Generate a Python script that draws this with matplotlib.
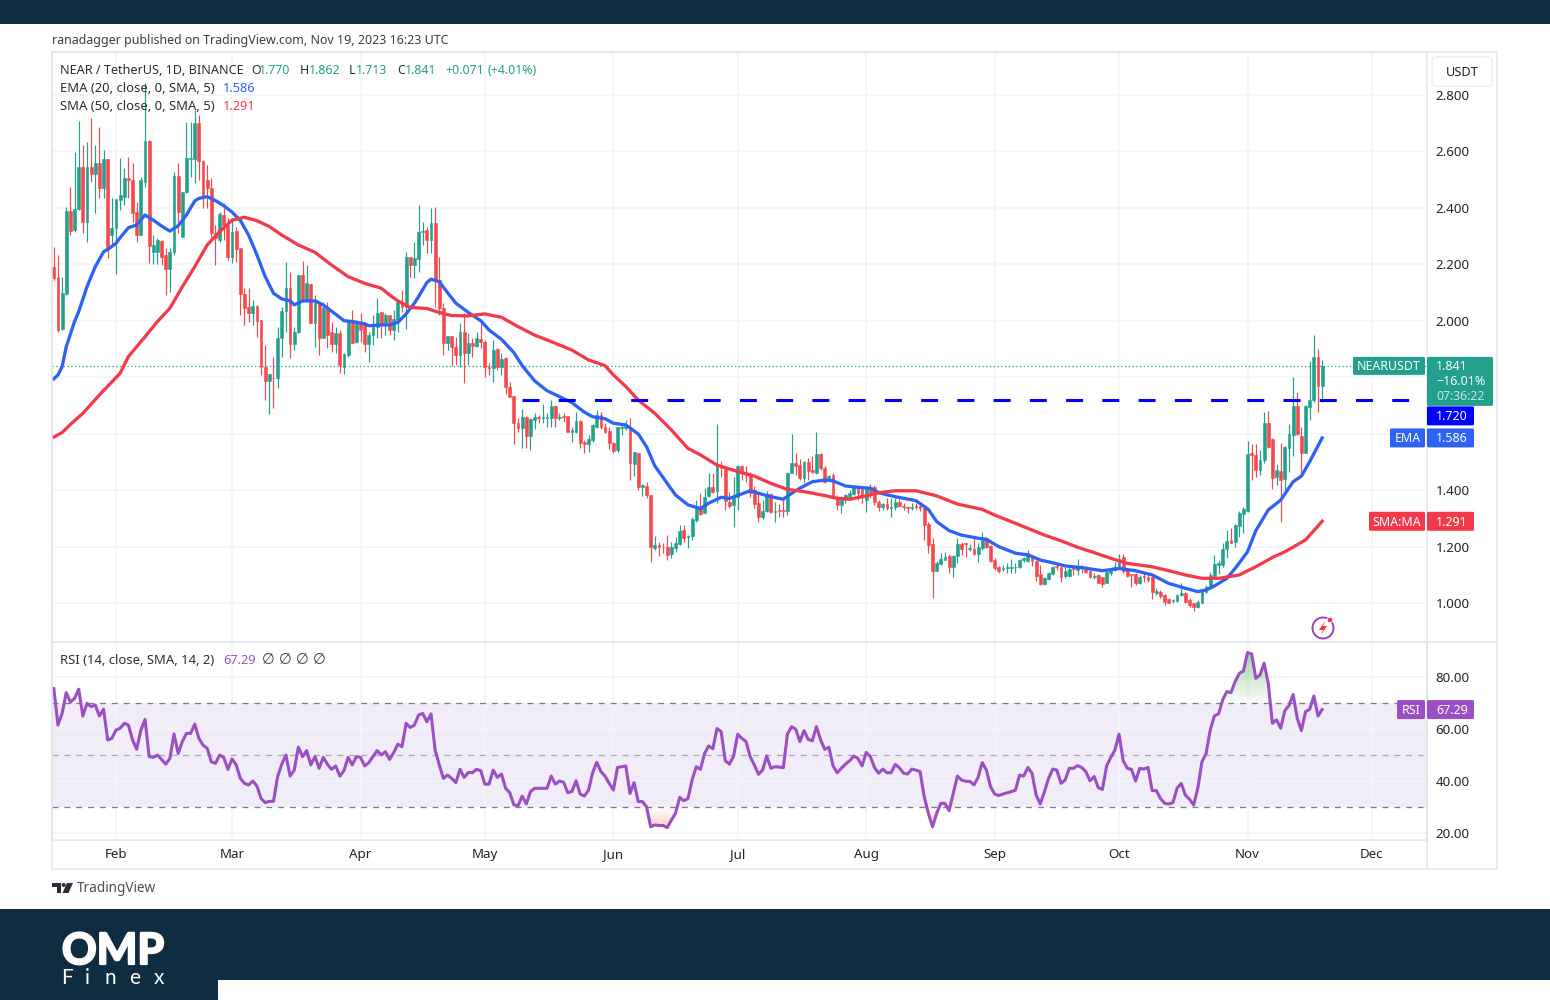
import numpy as np
import matplotlib
matplotlib.use("Agg")
import matplotlib.pyplot as plt
import matplotlib.patheffects as pe
from matplotlib.patches import Rectangle, FancyBboxPatch, Polygon, Circle, Arc

plt.rcParams['font.family'] = ['Noto Sans', 'DejaVu Sans']

# day offsets from Feb 1 2023, one candle per day
days = np.arange(-15, 292)

opens = [
    2.192,2.157,1.970,2.094,2.389,2.322,2.395,2.546,2.352,2.546,
    2.519,2.560,2.470,2.573,2.304,2.328,2.428,2.440,2.505,2.499,
    2.387,2.304,2.493,2.638,2.245,2.245,2.284,2.234,2.184,2.245,
    2.514,2.298,2.455,2.573,2.573,2.700,2.566,2.499,2.470,2.310,
    2.287,2.375,2.340,2.228,2.318,2.259,2.094,2.051,2.027,2.054,
    2.003,1.838,1.788,1.799,1.797,1.941,2.035,2.116,1.917,1.962,
    2.163,2.074,2.131,1.992,2.062,1.941,2.045,1.960,1.917,1.956,
    1.838,1.880,2.000,1.924,1.988,1.986,1.917,1.950,1.980,2.030,
    1.989,2.021,1.968,2.004,2.060,2.048,2.225,2.198,2.218,2.314,
    2.322,2.287,2.346,2.145,2.045,1.923,1.947,1.909,1.880,1.960,
    1.888,1.921,1.911,1.935,1.927,1.838,1.832,1.900,1.838,1.868,
    1.765,1.734,1.640,1.620,1.661,1.593,1.650,1.659,1.657,1.657,
    1.655,1.700,1.655,1.664,1.664,1.608,1.608,1.647,1.573,1.563,
    1.579,1.626,1.667,1.626,1.610,1.569,1.543,1.620,1.620,1.626,
    1.494,1.531,1.414,1.416,1.384,1.195,1.207,1.201,1.201,1.175,
    1.195,1.211,1.260,1.234,1.239,1.296,1.340,1.322,1.380,1.411,
    1.399,1.490,1.478,1.360,1.348,1.378,1.487,1.467,1.451,1.402,
    1.355,1.307,1.329,1.388,1.325,1.331,1.331,1.329,1.463,1.499,
    1.490,1.443,1.502,1.473,1.463,1.529,1.478,1.437,1.455,1.378,
    1.349,1.372,1.378,1.388,1.411,1.404,1.366,1.414,1.414,1.360,
    1.340,1.352,1.337,1.340,1.360,1.345,1.340,1.337,1.345,1.345,
    1.337,1.281,1.211,1.116,1.140,1.154,1.168,1.130,1.168,1.211,
    1.213,1.192,1.192,1.175,1.195,1.231,1.203,1.154,1.128,1.121,
    1.125,1.127,1.128,1.128,1.154,1.152,1.168,1.152,1.104,1.069,
    1.085,1.104,1.133,1.128,1.097,1.097,1.128,1.118,1.130,1.128,
    1.116,1.095,1.101,1.093,1.074,1.109,1.118,1.128,1.163,1.118,
    1.104,1.104,1.071,1.097,1.095,1.095,1.038,1.042,1.030,1.015,
    1.010,1.010,1.030,1.038,1.012,1.000,0.986,1.003,1.042,1.054,
    1.097,1.136,1.136,1.192,1.225,1.219,1.274,1.317,1.329,1.531,
    1.526,1.473,1.508,1.638,1.581,1.447,1.470,1.439,1.549,1.596,
    1.699,1.593,1.534,1.697,1.720,1.871,1.770]
highs = [
    2.263,2.234,2.157,2.405,2.475,2.597,2.708,2.623,2.635,2.717,
    2.623,2.688,2.605,2.575,2.434,2.432,2.576,2.540,2.582,2.558,
    2.422,2.511,2.841,2.641,2.304,2.293,2.285,2.257,2.257,2.529,
    2.558,2.456,2.706,2.703,2.747,2.729,2.570,2.552,2.505,2.340,
    2.387,2.417,2.363,2.363,2.334,2.260,2.116,2.116,2.074,2.057,
    2.004,1.915,1.811,1.874,1.980,2.051,2.210,2.174,1.980,2.163,
    2.213,2.198,2.131,2.092,2.068,2.068,2.068,1.998,1.980,1.968,
    1.885,2.000,2.039,2.003,2.027,1.998,1.962,2.021,2.080,2.030,
    2.027,2.022,2.039,2.069,2.110,2.245,2.228,2.281,2.411,2.352,
    2.334,2.399,2.405,2.228,2.063,1.947,1.948,1.945,1.992,2.027,
    1.956,1.939,1.962,1.992,1.933,1.850,1.933,1.903,1.888,1.874,
    1.785,1.735,1.655,1.687,1.662,1.655,1.673,1.667,1.706,1.673,
    1.720,1.703,1.673,1.673,1.664,1.626,1.679,1.648,1.579,1.596,
    1.635,1.685,1.679,1.638,1.626,1.573,1.626,1.632,1.649,1.655,
    1.537,1.532,1.423,1.431,1.385,1.239,1.219,1.215,1.242,1.219,
    1.237,1.278,1.278,1.242,1.307,1.366,1.390,1.408,1.461,1.463,
    1.635,1.506,1.482,1.396,1.447,1.490,1.490,1.487,1.467,1.416,
    1.396,1.366,1.399,1.392,1.360,1.352,1.366,1.467,1.600,1.532,
    1.510,1.506,1.514,1.522,1.606,1.532,1.487,1.455,1.463,1.384,
    1.381,1.386,1.402,1.417,1.420,1.411,1.416,1.423,1.420,1.366,
    1.357,1.372,1.372,1.372,1.370,1.355,1.345,1.355,1.355,1.357,
    1.340,1.290,1.231,1.152,1.180,1.183,1.175,1.172,1.231,1.219,
    1.213,1.211,1.234,1.213,1.254,1.234,1.207,1.160,1.133,1.136,
    1.142,1.156,1.145,1.156,1.166,1.189,1.172,1.154,1.136,1.093,
    1.113,1.133,1.142,1.130,1.128,1.136,1.136,1.156,1.136,1.133,
    1.118,1.107,1.104,1.095,1.118,1.124,1.148,1.174,1.174,1.124,
    1.104,1.107,1.101,1.107,1.101,1.095,1.054,1.048,1.034,1.018,
    1.015,1.034,1.071,1.042,1.018,1.003,1.012,1.050,1.065,1.113,
    1.172,1.154,1.213,1.260,1.266,1.281,1.329,1.343,1.576,1.565,
    1.565,1.543,1.679,1.683,1.585,1.494,1.567,1.557,1.635,1.803,
    1.750,1.626,1.703,1.860,1.950,1.900,1.862]
lows = [
    2.145,1.962,1.968,2.092,2.304,2.316,2.393,2.310,2.278,2.493,
    2.381,2.434,2.434,2.222,2.269,2.165,2.393,2.411,2.434,2.352,
    2.281,2.304,2.475,2.204,2.200,2.200,2.198,2.092,2.104,2.234,
    2.310,2.298,2.452,2.511,2.487,2.499,2.399,2.399,2.298,2.198,
    2.281,2.287,2.216,2.204,2.210,2.021,1.986,1.998,1.986,1.944,
    1.809,1.720,1.670,1.691,1.764,1.874,1.962,1.868,1.897,1.956,
    2.068,2.074,1.992,1.909,1.880,1.939,1.903,1.891,1.885,1.815,
    1.811,1.874,1.921,1.921,1.927,1.891,1.856,1.915,1.939,1.939,
    1.950,1.950,1.933,1.962,2.033,1.970,2.157,2.151,2.175,2.269,
    2.240,2.240,2.051,2.021,1.880,1.897,1.842,1.844,1.838,1.779,
    1.844,1.874,1.909,1.903,1.803,1.809,1.783,1.826,1.809,1.742,
    1.732,1.565,1.608,1.549,1.549,1.543,1.616,1.638,1.638,1.626,
    1.626,1.626,1.649,1.644,1.608,1.573,1.602,1.549,1.532,1.537,
    1.573,1.620,1.616,1.602,1.546,1.534,1.537,1.596,1.614,1.437,
    1.451,1.402,1.380,1.372,1.148,1.189,1.168,1.180,1.154,1.160,
    1.183,1.207,1.219,1.195,1.225,1.290,1.313,1.319,1.378,1.392,
    1.355,1.449,1.331,1.337,1.272,1.331,1.437,1.431,1.378,1.337,
    1.290,1.298,1.325,1.319,1.290,1.305,1.307,1.313,1.461,1.455,
    1.437,1.425,1.437,1.461,1.458,1.473,1.425,1.435,1.372,1.331,
    1.319,1.355,1.376,1.384,1.366,1.355,1.325,1.372,1.349,1.329,
    1.331,1.331,1.305,1.331,1.340,1.331,1.319,1.331,1.336,1.329,
    1.225,1.180,1.018,1.116,1.136,1.154,1.109,1.095,1.145,1.172,
    1.163,1.187,1.172,1.148,1.189,1.195,1.148,1.119,1.109,1.116,
    1.109,1.109,1.107,1.124,1.148,1.148,1.133,1.081,1.065,1.065,
    1.083,1.101,1.119,1.077,1.089,1.093,1.101,1.101,1.107,1.109,
    1.089,1.085,1.071,1.059,1.071,1.101,1.116,1.124,1.109,1.093,
    1.057,1.065,1.069,1.077,1.077,1.015,1.030,1.018,0.995,1.000,
    1.003,1.006,1.026,1.000,0.989,0.975,0.984,1.000,1.038,1.050,
    1.095,1.104,1.130,1.160,1.213,1.201,1.237,1.248,1.325,1.437,
    1.447,1.455,1.498,1.549,1.404,1.419,1.290,1.396,1.467,1.522,
    1.596,1.455,1.534,1.650,1.714,1.679,1.713]
closes = [
    2.153,1.968,2.098,2.389,2.318,2.396,2.546,2.352,2.546,2.519,
    2.558,2.470,2.573,2.259,2.330,2.431,2.446,2.505,2.499,2.381,
    2.304,2.499,2.638,2.267,2.269,2.287,2.228,2.184,2.245,2.514,
    2.387,2.455,2.576,2.576,2.700,2.566,2.446,2.470,2.310,2.293,
    2.377,2.340,2.228,2.316,2.255,2.094,2.047,2.027,2.054,2.000,
    1.838,1.788,1.811,1.797,1.941,2.035,2.116,1.917,1.962,2.163,
    2.074,2.133,1.992,2.074,1.941,2.047,1.950,1.917,1.956,1.844,
    1.883,2.000,1.923,2.000,1.968,1.917,1.950,1.980,2.027,1.986,
    2.021,1.968,2.006,2.068,2.048,2.225,2.198,2.222,2.314,2.320,
    2.287,2.346,2.145,2.045,1.923,1.947,1.909,1.880,1.960,1.888,
    1.921,1.911,1.939,1.927,1.836,1.832,1.897,1.838,1.864,1.765,
    1.732,1.640,1.620,1.661,1.593,1.652,1.661,1.655,1.659,1.659,
    1.700,1.655,1.661,1.659,1.608,1.614,1.647,1.569,1.563,1.581,
    1.632,1.667,1.624,1.608,1.567,1.541,1.624,1.626,1.628,1.496,
    1.535,1.414,1.419,1.384,1.201,1.207,1.199,1.199,1.172,1.201,
    1.213,1.257,1.231,1.239,1.298,1.340,1.317,1.378,1.411,1.396,
    1.490,1.478,1.364,1.345,1.381,1.487,1.461,1.455,1.390,1.352,
    1.305,1.329,1.388,1.325,1.329,1.327,1.329,1.463,1.499,1.487,
    1.443,1.502,1.470,1.467,1.529,1.478,1.431,1.451,1.378,1.349,
    1.376,1.384,1.390,1.414,1.390,1.376,1.414,1.392,1.360,1.340,
    1.352,1.337,1.340,1.360,1.345,1.340,1.337,1.343,1.340,1.337,
    1.278,1.207,1.116,1.142,1.156,1.166,1.130,1.168,1.211,1.192,
    1.211,1.195,1.175,1.199,1.231,1.201,1.152,1.124,1.116,1.125,
    1.128,1.130,1.130,1.154,1.160,1.180,1.152,1.097,1.069,1.089,
    1.107,1.130,1.128,1.093,1.116,1.121,1.121,1.130,1.124,1.113,
    1.093,1.097,1.074,1.069,1.110,1.121,1.130,1.156,1.116,1.097,
    1.101,1.071,1.095,1.093,1.083,1.042,1.045,1.027,1.006,1.003,
    1.012,1.030,1.038,1.006,0.995,0.986,1.006,1.045,1.057,1.101,
    1.140,1.144,1.192,1.222,1.215,1.278,1.319,1.333,1.529,1.526,
    1.473,1.508,1.638,1.553,1.443,1.473,1.437,1.553,1.600,1.699,
    1.600,1.534,1.699,1.720,1.871,1.770,1.841]

ema_days = [-15,-14,-13,-12,-10,-9,-7,-6,-5,-3,-2,0,1,3,5,7,9,11,13,15,17,19,20,22,24,26,28,30,32,34,36,38,40,42,43,
            45,48,50,52,55,57,60,61,64,66,68,70,72,73,75,76,78,80,82,85,88,90,93,96,98,101,104,107,110,113,115,118,
            120,123,126,128,130,133,135,138,141,143,146,148,151,153,155,158,161,163,165,168,171,173,176,179,182,184,
            188,193,196,198,201,204,208,210,213,217,220,223,226,229,233,238,242,246,250,254,258,261,263,265,268,270,
            273,275,278,281,284,286,288,291]
ema_values = [1.795,1.809,1.838,1.909,1.998,2.033,2.121,2.157,2.192,2.245,2.253,2.275,2.295,2.330,2.340,2.375,2.357,
              2.336,2.318,2.337,2.375,2.425,2.434,2.440,2.426,2.408,2.385,2.356,2.304,2.234,2.157,2.098,2.078,2.071,
              2.057,2.071,2.071,2.057,2.035,2.001,1.998,1.990,1.983,1.986,1.986,1.995,2.025,2.063,2.086,2.136,2.148,
              2.139,2.100,2.063,2.030,2.001,1.968,1.935,1.888,1.842,1.788,1.753,1.732,1.711,1.677,1.661,1.654,1.638,
              1.632,1.600,1.555,1.487,1.425,1.384,1.349,1.336,1.355,1.376,1.372,1.388,1.399,1.390,1.378,1.369,1.390,
              1.408,1.431,1.437,1.434,1.416,1.411,1.408,1.392,1.378,1.364,1.333,1.290,1.258,1.242,1.231,1.227,1.201,
              1.178,1.172,1.154,1.144,1.133,1.127,1.116,1.124,1.116,1.101,1.071,1.054,1.042,1.048,1.062,1.089,1.124,
              1.183,1.258,1.331,1.366,1.431,1.451,1.502,1.586]

sma_days = [-15,-13,-11,-8,-4,1,3,7,10,13,16,19,22,25,28,31,34,37,40,44,48,52,56,60,64,66,68,71,75,78,81,85,89,93,97,
            101,105,110,114,118,120,123,126,130,134,138,141,145,150,154,158,162,166,171,174,177,181,184,188,193,198,
            203,209,212,218,220,224,228,232,236,240,244,250,254,258,262,266,271,275,279,282,287,291]
sma_values = [1.589,1.605,1.634,1.673,1.738,1.815,1.874,1.944,1.998,2.045,2.121,2.192,2.269,2.316,2.357,2.367,2.355,
              2.334,2.304,2.269,2.243,2.198,2.157,2.133,2.116,2.092,2.071,2.048,2.044,2.030,2.019,2.018,2.025,2.013,
              1.980,1.950,1.927,1.897,1.862,1.842,1.809,1.768,1.720,1.673,1.614,1.549,1.526,1.490,1.467,1.451,1.425,
              1.404,1.396,1.382,1.372,1.369,1.381,1.392,1.399,1.399,1.381,1.352,1.333,1.313,1.278,1.266,1.242,1.222,
              1.199,1.180,1.160,1.142,1.130,1.116,1.101,1.089,1.089,1.101,1.130,1.163,1.183,1.225,1.291]

rsi_values = [
    75.4,61.3,65.8,73.8,70.1,71.6,75.1,64.8,69.7,68.4,
    69.0,64.8,67.4,55.6,56.2,59.4,60.1,62.0,61.3,55.6,
    52.0,59.4,63.5,49.2,48.9,49.8,48.1,46.3,48.5,57.9,
    50.4,55.0,58.1,58.1,61.7,56.2,53.6,52.4,47.2,46.6,
    49.8,48.9,44.3,48.3,46.0,40.8,38.9,38.3,39.8,37.9,
    33.1,31.5,32.0,32.0,41.5,46.3,49.8,41.7,44.0,52.8,
    49.2,51.5,46.0,49.2,44.7,48.9,46.3,44.3,45.6,41.7,
    43.8,48.9,46.0,49.2,48.9,45.6,46.9,49.2,51.5,49.8,
    51.1,48.1,50.7,54.0,53.0,62.0,60.4,61.3,65.2,65.8,
    62.6,65.6,51.7,46.0,40.8,42.1,40.8,39.2,44.3,41.2,
    43.1,43.0,44.3,43.8,38.6,38.6,44.0,41.2,42.5,37.0,
    35.3,30.6,30.3,34.0,31.0,35.7,37.0,37.0,37.0,37.0,
    41.7,38.6,39.8,39.3,35.3,35.8,39.9,34.8,34.0,36.3,
    43.0,47.0,43.4,41.7,38.9,36.3,45.0,45.3,45.6,35.0,
    39.2,31.9,31.9,29.9,22.2,22.9,22.7,22.7,21.9,24.8,
    27.4,33.5,32.2,33.1,40.2,45.3,44.3,50.4,53.3,52.2,
    60.0,58.8,47.6,46.3,49.4,57.8,56.2,55.0,49.2,46.0,
    42.4,44.0,49.4,44.7,45.3,45.2,44.9,57.9,60.7,59.7,
    55.0,59.2,55.8,55.3,60.7,55.6,52.0,52.8,45.6,43.0,
    44.7,46.3,47.6,49.4,48.5,45.6,50.8,49.2,45.0,42.8,
    44.4,43.0,43.0,46.2,44.9,42.8,42.5,44.4,44.0,43.4,
    33.8,27.4,22.2,27.4,31.2,31.2,28.4,35.0,41.7,40.2,
    39.7,39.7,38.3,41.2,46.9,44.0,37.6,34.8,34.2,34.8,
    35.3,35.7,36.3,42.1,41.7,45.0,42.8,34.4,31.0,35.7,
    40.8,44.4,44.0,38.9,40.2,44.7,44.7,45.7,45.0,43.4,
    39.9,41.5,37.2,36.6,45.6,48.9,51.7,57.8,47.6,44.7,
    44.3,39.8,44.7,44.4,45.0,36.1,36.1,33.1,31.2,31.0,
    31.5,37.0,38.9,34.4,32.8,30.6,37.0,47.2,50.4,59.4,
    64.8,65.6,71.0,74.2,73.8,78.0,81.2,82.1,89.2,88.7,
    79.3,80.6,85.1,77.4,62.0,63.3,60.1,66.9,68.8,73.1,
    63.9,59.2,66.5,67.4,72.5,64.8,67.29]

month_days = [0, 28, 59, 89, 120, 150, 181, 212, 242, 273, 303]
month_labels = ['Feb', 'Mar', 'Apr', 'May', 'Jun', 'Jul', 'Aug', 'Sep', 'Oct', 'Nov', 'Dec']
price_ticks = [1.0, 1.2, 1.4, 1.6, 1.8, 2.0, 2.2, 2.4, 2.6, 2.8]
# 1.6 and 1.8 sit under the value labels, so they show no text
price_labels = ['1.000', '1.200', '1.400', '', '', '2.000', '2.200', '2.400', '2.600', '2.800']
rsi_ticks = [20, 40, 60, 80]
rsi_levels = [30, 50, 70]
level_price = 1.720

GREEN = '#22a08c'
RED = '#f5474c'
BLUE = '#2d62f5'
SMA_RED = '#f23a4a'
PURPLE = '#9a4fc2'
NAVY = '#0f2c41'
GRID = '#f3f4f8'
FRAME = '#e3e5ec'
TEXT = '#2a2e39'

W, H = 1550, 1000
fig = plt.figure(figsize=(15.5, 10), dpi=100, facecolor='white')


def pane(left, top, right, bottom):
    return fig.add_axes([left / W, 1 - bottom / H, (right - left) / W, (bottom - top) / H])


ax = pane(52, 52, 1427, 642)
ax2 = pane(52, 642, 1427, 840)

opens = np.array(opens)
closes = np.array(closes)
colors = np.where(closes >= opens, GREEN, RED)

ax.vlines(days, lows, highs, colors=colors, lw=0.85, zorder=2)
ax.bar(days, np.abs(closes - opens), bottom=np.minimum(opens, closes), width=0.68,
       color=colors, edgecolor=colors, lw=0.4, zorder=3)
ax.plot(ema_days, ema_values, color=BLUE, lw=2.35, zorder=4, solid_joinstyle='round')
ax.plot(sma_days, sma_values, color=SMA_RED, lw=2.35, zorder=4, solid_joinstyle='round')
ax.axhline(closes[-1], color=GREEN, lw=0.9, ls=(0, (1, 2)), zorder=1)
ax.plot([98, 312.2], [level_price, level_price], color='#0000ff', lw=2.2, ls=(0, (5.56, 6.3)),
        dash_capstyle='butt', zorder=5)

x_lim = (-15.44, 316.3)
ax.set_xlim(x_lim)
ax.set_ylim(0.8637, 2.952)
ax.set_yticks(price_ticks)
ax.set_yticklabels(price_labels)
ax.set_xticks(month_days)
ax.tick_params(axis='x', length=0, labelbottom=False)
ax.yaxis.tick_right()
ax.tick_params(axis='y', length=0, pad=6, labelsize=9.6, labelcolor='#1f2430')
ax.grid(color=GRID, lw=1.1)
ax.set_axisbelow(True)

rsi = np.array(rsi_values, dtype=float)
ax2.axhspan(30, 70, color='#7e57c2', alpha=0.1, lw=0, zorder=0)
for lev in rsi_levels:
    ax2.plot([x_lim[0], 315.3], [lev, lev], color='#7b7e88', lw=0.95, ls=(0, (4.5, 4.5)), zorder=1,
             alpha=0.6 if lev == 50 else 1)
ax2.set_xlim(x_lim)
ax2.set_ylim(17.12, 93.27)


def gradient_fill(y1, y2, where, rgb, a_low, a_high, v_low, v_high):
    # fill between the rsi and a level, fading towards the level
    poly = ax2.fill_between(days, y1, y2, where=where, interpolate=True, color='none', lw=0)
    grad = np.zeros((128, 2, 4))
    grad[..., :3] = matplotlib.colors.to_rgb(rgb)
    grad[..., 3] = np.linspace(a_low, a_high, 128)[:, None]
    for path in poly.get_paths():
        im = ax2.imshow(grad, extent=[days[0], days[-1], v_low, v_high], origin='lower', aspect='auto', zorder=1.5)
        im.set_clip_path(path, transform=ax2.transData)


gradient_fill(rsi, 70, rsi > 70, '#4caf50', 0.02, 0.55, 70, 90)
gradient_fill(rsi, 30, rsi < 30, '#f44336', 0.28, 0.0, 21, 30)
ax2.set_xlim(x_lim)
ax2.set_ylim(17.12, 93.27)
ax2.plot(days, rsi, color=PURPLE, lw=2.2, zorder=3, solid_joinstyle='round')
ax2.set_yticks(rsi_ticks)
ax2.set_yticklabels(['%.2f' % r for r in rsi_ticks])
ax2.yaxis.tick_right()
ax2.tick_params(axis='y', length=0, pad=6, labelsize=9.6, labelcolor='#1f2430')
ax2.set_xticks(month_days)
ax2.set_xticklabels(month_labels)
ax2.tick_params(axis='x', length=0, pad=6, labelsize=9.6, labelcolor='#1f2430')
ax2.grid(color=GRID, lw=1.1)
ax2.set_axisbelow(True)

for a in (ax, ax2):
    for s in a.spines.values():
        s.set_color(FRAME)
        s.set_linewidth(1.1)

# overlay in image pixels for banners, legends and labels
ov = fig.add_axes([0, 0, 1, 1], facecolor='none')
ov.set_xlim(0, W)
ov.set_ylim(H, 0)
ov.axis('off')


def price_y(a, v):
    return H - a.transData.transform((0, v))[1]


def txt(x, y, s, color=TEXT, size=9.0, ha='left', **kw):
    ov.text(x, y + 1, s, color=color, fontsize=size, ha=ha, va='center', **kw)


def box(x0, x1, y0, y1, color):
    ov.add_patch(FancyBboxPatch((x0 + 1, y0 + 1), x1 - x0 - 2, y1 - y0 - 2, boxstyle='round,pad=1,rounding_size=1.5',
                                fc=color, ec='none', zorder=6))


def value_label(y, s, color, name=None, name_x=None):
    box(1427, 1474, y - 9.5, y + 9.5, color)
    txt(1436, y, s, 'white', zorder=7)
    if name:
        box(name_x, 1425, y - 9.5, y + 9.5, color)
        txt((name_x + 1425) / 2, y, name, 'white', size=8.9, ha='center', zorder=7)


# outer frame and banners
ov.add_patch(Rectangle((52, 52), 1445, 817, fc='none', ec=FRAME, lw=1.1, zorder=0))
ov.plot([52, 1497], [642, 642], color=FRAME, lw=1.1, zorder=0)
ov.plot([1427, 1427], [642, 869], color=FRAME, lw=1.1, zorder=0)
ov.add_patch(Rectangle((0, 0), W, 24, fc=NAVY, ec='none'))
ov.add_patch(Rectangle((0, 909), W, 91, fc=NAVY, ec='none'))
ov.add_patch(Rectangle((218, 980), W - 218, 20, fc='white', ec='none'))

txt(52, 39.5, 'ranadagger published on TradingView.com, Nov 19, 2023 16:23 UTC', '#3a3e4a', size=8.97)

# legend rows
txt(60, 69, 'NEAR / TetherUS, 1D, BINANCE', size=9.1)
for x, s, c in [(251, 'O', TEXT), (259, '1.770', GREEN), (300, 'H', TEXT), (309, '1.862', GREEN),
                (349, 'L', TEXT), (356, '1.713', GREEN), (397, 'C', TEXT), (405, '1.841', GREEN),
                (445, '+0.071', GREEN), (488, '(+4.01%)', GREEN)]:
    txt(x, 69, s, c, size=8.9)
txt(60, 87, 'EMA (20, close, 0, SMA, 5)', size=9.4)
txt(223, 87, '1.586', BLUE, size=9.2)
txt(60, 106, 'SMA (50, close, 0, SMA, 5)', size=9.4)
txt(223, 106, '1.291', SMA_RED, size=9.2)
txt(60, 659, 'RSI (14, close, SMA, 14, 2)', size=9.4)
txt(223, 659, '67.29', PURPLE, size=9.2)
for x in (268, 285, 302, 319):
    txt(x, 659, '\u2205', '#3a3e4a', size=10.5, ha='center')

# right side labels
ov.add_patch(FancyBboxPatch((1433, 58), 58, 27, boxstyle='round,pad=1,rounding_size=4',
                            fc='white', ec='#eceef3', lw=1.1, zorder=6))
txt(1462, 71, 'USDT', '#1f2430', size=9.2, ha='center', zorder=7)

y_last = price_y(ax, closes[-1])
box(1353, 1425, y_last - 9, y_last + 9, GREEN)
txt(1389, y_last, 'NEARUSDT', 'white', size=8.9, ha='center', zorder=7)
box(1427, 1493, y_last - 9, y_last + 40, GREEN)
txt(1436, y_last, '1.841', 'white', zorder=7)
txt(1436, y_last + 15, '\u221216.01%', 'white', zorder=7)
txt(1436, y_last + 30, '07:36:22', '#c4e6e0', size=8.8, zorder=7)

# the level label is pushed below the last price box, as on the chart
value_label(y_last + 50, '1.720', '#0000ff')
value_label(price_y(ax, ema_values[-1]), '1.586', BLUE, 'EMA', 1390)
value_label(price_y(ax, sma_values[-1]), '1.291', SMA_RED, 'SMA:MA', 1369)
value_label(price_y(ax2, rsi[-1]), '67.29', PURPLE, 'RSI', 1397)

# flash icon
ov.add_patch(Arc((1323, 628), 21, 21, theta1=-60, theta2=300, ec='#9c3fc0', lw=1.4, zorder=6))
ov.add_patch(Polygon([(1325, 621), (1319, 630), (1323, 630), (1321, 635), (1327, 626), (1323, 626)],
                     fc='#f23645', ec='none', zorder=6))
ov.add_patch(Circle((1330, 620), 2.8, fc='#f23645', ec='white', lw=0.6, zorder=7))

# TradingView mark
ov.add_patch(Polygon([(52, 883), (61, 883), (61, 893), (57, 893), (57, 887), (52, 887)], fc='#2a2e39', ec='none'))
ov.add_patch(Circle((63.7, 885), 2, fc='#2a2e39', ec='none'))
ov.add_patch(Polygon([(67, 883), (73, 883), (68.5, 893), (62.5, 893)], fc='#2a2e39', ec='none'))
txt(77, 887.5, 'TradingView', '#4a4e59', size=9.8)

# OMP Finex logo
ov.text(113, 951, 'OMP', color='white', fontsize=31, fontweight='bold', family='Lato', ha='center', va='center',
        path_effects=[pe.withStroke(linewidth=1.6, foreground='white')])
for x, s in [(67, 'F'), (87, 'i'), (110.5, 'n'), (135, 'e'), (158.5, 'x')]:
    ov.text(x, 978, s, color='white', fontsize=15, family='Lato', ha='center', va='center')

fig.savefig('out.png', dpi=100)
